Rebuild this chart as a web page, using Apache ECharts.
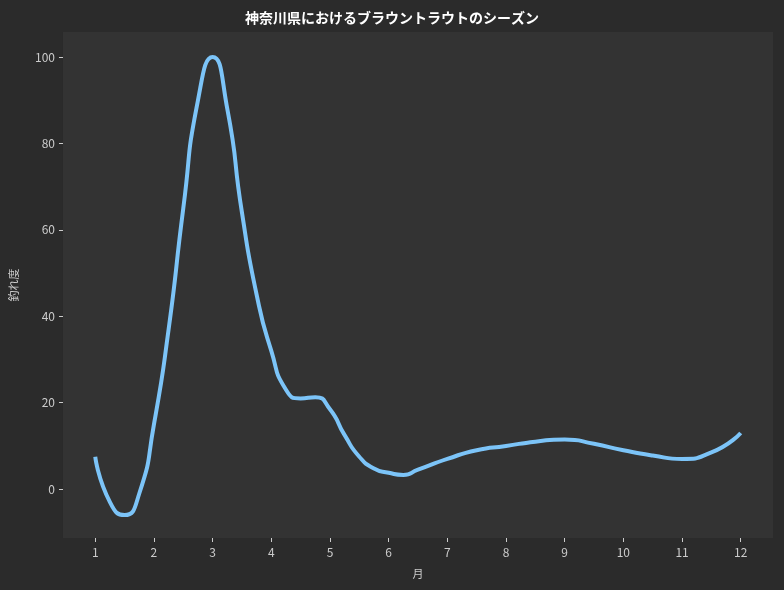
<!DOCTYPE html>
<html><head><meta charset="utf-8">
<script src="https://cdn.jsdelivr.net/npm/echarts@6/dist/echarts.min.js"></script>
<style>html,body{margin:0;background:#2b2b2b}#c{width:784px;height:590px}</style>
</head><body><div id="c"></div>
<script>
const months = [1,1.25,1.5,1.75,2,2.25,2.5,2.75,3,3.25,3.5,3.75,4,4.25,4.5,4.75,5,5.25,5.5,5.75,6,6.25,6.5,7,7.5,8,8.5,9,9.5,10,10.5,11,11.5,12];
const values = [7.5,-3,-6,-1,15,37,65,90,100,88,64,45,32,23,21,21.3,18.5,12.5,7.5,4.8,3.8,3.3,4.5,7,9,10,11,11.5,10.5,9,7.8,7,8.5,13];
const xTicks = [1,2,3,4,5,6,7,8,9,10,11,12];
const yTicks = [0,20,40,60,80,100];
const font = '"Noto Sans CJK JP", sans-serif';
const chart = echarts.init(document.getElementById('c'));
chart.setOption({
  backgroundColor:'#2b2b2b',
  title:{text:'神奈川県におけるブラウントラウトのシーズン',left:'center',top:6,textStyle:{color:'#ffffff',fontSize:14,fontWeight:'bold',fontFamily:font}},
  grid:{left:62,right:11,top:32,bottom:52,show:true,backgroundColor:'#333333',borderWidth:0},
  xAxis:{type:'value',min:0.45,max:12.55,name:'月',nameLocation:'middle',nameGap:30,
    nameTextStyle:{color:'#cccccc',fontSize:11,fontFamily:font},
    axisLine:{show:false,onZero:false},splitLine:{show:false},
    axisTick:{show:true,customValues:xTicks,lineStyle:{color:'#cccccc'},length:4},
    axisLabel:{customValues:xTicks,color:'#cccccc',fontSize:12,fontFamily:font,margin:8}},
  yAxis:{type:'value',min:-11.3,max:105.8,name:'釣れ度',nameLocation:'middle',nameGap:44,
    nameTextStyle:{color:'#cccccc',fontSize:11,fontFamily:font},
    axisLine:{show:false,onZero:false},splitLine:{show:false},
    axisTick:{show:true,customValues:yTicks,lineStyle:{color:'#cccccc'},length:4},
    axisLabel:{customValues:yTicks,color:'#cccccc',fontSize:12,fontFamily:font,margin:8}},
  series:[{type:'line',data:months.map((m,i)=>[m,values[i]]),smooth:0.6,showSymbol:false,
    lineStyle:{color:'#7cc4f8',width:4}}]
});
</script></body></html>
